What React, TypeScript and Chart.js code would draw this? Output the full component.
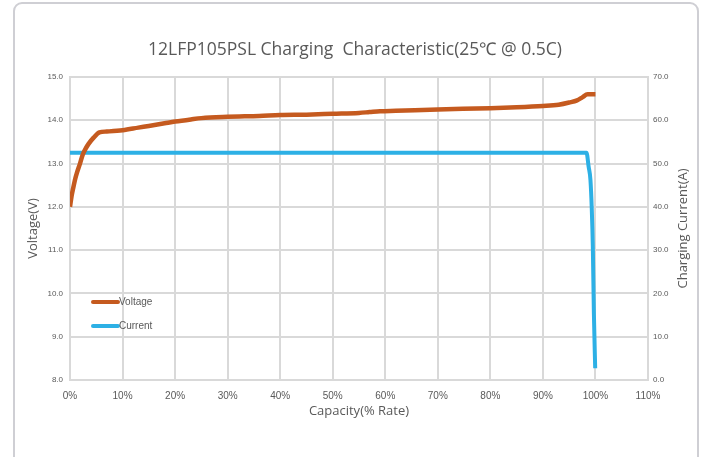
import React, { useEffect, useRef } from "react";
import { Chart, registerables } from "chart.js";

Chart.register(...registerables);

const TITLE = "12LFP105PSL Charging  Characteristic(25℃ @ 0.5C)";
const X_TITLE = "Capacity(% Rate)";
const Y_LEFT_TITLE = "Voltage(V)";
const Y_RIGHT_TITLE = "Charging Current(A)";

const voltageX = [0, 0.3, 0.6, 1.0, 1.3, 1.9, 2.4, 3.0, 3.5, 4.5, 5.6, 7, 10, 13, 15, 18, 20, 23, 25, 30, 36, 40, 45, 50, 55, 57, 59, 62, 70, 80, 85, 90, 93, 95, 96.5, 97.5, 98.5, 100];
const voltageY = [12.0, 12.25, 12.43, 12.65, 12.78, 13.0, 13.2, 13.35, 13.45, 13.6, 13.72, 13.74, 13.77, 13.83, 13.87, 13.93, 13.97, 14.02, 14.05, 14.08, 14.1, 14.12, 14.13, 14.15, 14.17, 14.19, 14.21, 14.22, 14.25, 14.28, 14.3, 14.33, 14.36, 14.41, 14.46, 14.53, 14.6, 14.6];

const currentX = [0, 98.3, 98.7, 99.05, 99.3, 99.5, 99.7, 99.95];
const currentY = [52.5, 52.5, 49.3, 46.2, 39.5, 30.8, 15.5, 2.7];

const GRAY = "#595959";
const GRID = "#d9d9d9";
const VOLT_COLOR = "#C55A1F";
const CURR_COLOR = "#2DB0E5";

const legendPlugin = {
  id: "innerLegend",
  afterDatasetsDraw(chart: any) {
    const { ctx, chartArea } = chart;
    const items = chart.data.datasets;
    ctx.save();
    items.forEach((ds: any, i: number) => {
      const y = chartArea.top + 225 + i * 24;
      const x0 = chartArea.left + 23;
      const x1 = x0 + 25;
      ctx.strokeStyle = ds.borderColor;
      ctx.lineWidth = 4;
      ctx.lineCap = "round";
      ctx.beginPath();
      ctx.moveTo(x0, y);
      ctx.lineTo(x1, y);
      ctx.stroke();
      ctx.fillStyle = GRAY;
      ctx.font = "10px 'Liberation Sans', sans-serif";
      ctx.textBaseline = "middle";
      ctx.textAlign = "left";
      ctx.fillText(ds.label, x1 + 1, y);
    });
    ctx.restore();
  },
};

const rightTitlePlugin = {
  id: "rightTitle",
  afterDraw(chart: any) {
    const { ctx, chartArea } = chart;
    ctx.save();
    ctx.translate(683, (chartArea.top + chartArea.bottom) / 2);
    ctx.rotate(-Math.PI / 2);
    ctx.fillStyle = GRAY;
    ctx.font = "13px 'Open Sans', sans-serif";
    ctx.textAlign = "center";
    ctx.textBaseline = "middle";
    ctx.fillText(Y_RIGHT_TITLE, 0, 0);
    ctx.restore();
  },
};

export default function App() {
  const ref = useRef<HTMLCanvasElement | null>(null);

  useEffect(() => {
    if (!ref.current) return;
    const chart = new Chart(ref.current, {
      type: "line",
      data: {
        datasets: [
          {
            label: "Voltage",
            data: voltageX.map((x, i) => ({ x, y: voltageY[i] })),
            borderColor: VOLT_COLOR,
            backgroundColor: VOLT_COLOR,
            borderWidth: 4.5,
            pointRadius: 0,
            cubicInterpolationMode: "monotone",
            yAxisID: "y",
          },
          {
            label: "Current",
            data: currentX.map((x, i) => ({ x, y: currentY[i] })),
            borderColor: CURR_COLOR,
            backgroundColor: CURR_COLOR,
            borderWidth: 4,
            pointRadius: 0,
            cubicInterpolationMode: "monotone",
            yAxisID: "y1",
          },
        ],
      },
      options: {
        animation: false,
        responsive: false,
        layout: { padding: { left: 13, right: 13, top: 0, bottom: 30 } },
        plugins: {
          legend: { display: false },
          tooltip: { enabled: false },
          title: {
            display: true,
            text: TITLE,
            color: GRAY,
            font: { family: "'Open Sans', sans-serif", size: 17.5, weight: "normal" },
            padding: { top: 40, bottom: 16 },
          },
        },
        scales: {
          x: {
            type: "linear",
            min: 0,
            max: 110,
            ticks: {
              stepSize: 10,
              color: GRAY,
              font: { family: "'Liberation Sans', sans-serif", size: 10 },
              padding: 10,
              callback: (v: any) => v + "%",
            },
            grid: { color: GRID, lineWidth: 2, drawTicks: false },
            border: { color: GRID, width: 2 },
            title: {
              display: true,
              text: X_TITLE,
              color: GRAY,
              font: { family: "'Open Sans', sans-serif", size: 13 },
              padding: { top: 0, bottom: 8 },
            },
            afterFit: (s: any) => { s.height = 47; },
          },
          y: {
            type: "linear",
            position: "left",
            min: 8,
            max: 15,
            ticks: {
              stepSize: 1,
              color: GRAY,
              font: { family: "'Liberation Sans', sans-serif", size: 8 },
              padding: 7,
              callback: (v: any) => Number(v).toFixed(1),
            },
            grid: { color: GRID, lineWidth: 2, drawTicks: false },
            border: { color: GRID, width: 2 },
            title: {
              display: true,
              text: Y_LEFT_TITLE,
              color: GRAY,
              font: { family: "'Open Sans', sans-serif", size: 13 },
              padding: { top: 12, bottom: 0 },
            },
            afterFit: (s: any) => { s.width = 57; },
          },
          y1: {
            type: "linear",
            position: "right",
            min: 0,
            max: 70,
            ticks: {
              stepSize: 10,
              color: GRAY,
              font: { family: "'Liberation Sans', sans-serif", size: 8 },
              padding: 5,
              callback: (v: any) => Number(v).toFixed(1),
            },
            grid: { display: false, drawTicks: false },
            border: { color: GRID, width: 2 },
            title: { display: false },
            afterFit: (s: any) => { s.width = 49; },
          },
        },
      },
      plugins: [legendPlugin, rightTitlePlugin],
    } as any);
    return () => chart.destroy();
  }, []);

  return (
    <div style={{ position: "fixed", left: 0, top: 0, width: 710, height: 457, background: "#fff", overflow: "hidden" }}>
      <div
        style={{
          position: "absolute",
          left: 13,
          top: 2,
          width: 686,
          height: 500,
          border: "2px solid #cfcfd4",
          borderRadius: 9,
          boxSizing: "border-box",
        }}
      />
      <canvas ref={ref} width={710} height={457} style={{ position: "absolute", left: 0, top: 0 }} />
    </div>
  );
}
